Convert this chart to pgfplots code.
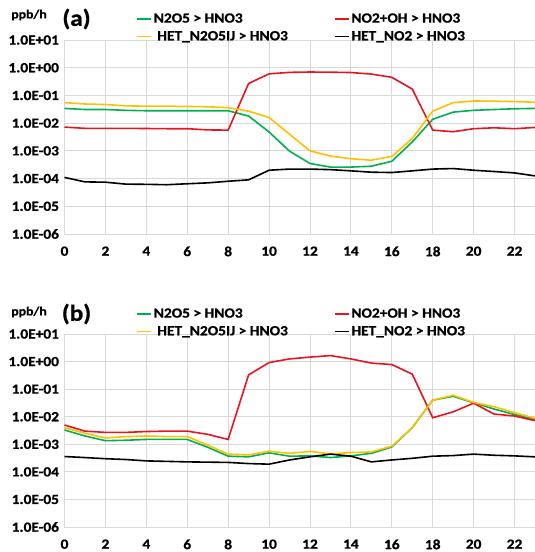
\documentclass[border=0pt]{standalone}
\usepackage{pgfplots}
\pgfplotsset{compat=1.18}
\usepackage{pgfplotstable}
\usepackage{fontspec}
\setmainfont{Carlito}[FakeStretch=1.1, BoldFeatures={FakeBold=0.8}]
\definecolor{cgreen}{RGB}{0,176,80}
\definecolor{cred}{RGB}{235,20,30}
\definecolor{cyellow}{RGB}{255,192,0}

\pgfplotstableread{
h g r y k
0 0.034 0.0072 0.055 1.1e-4
1 0.031 0.0065 0.049 7.6e-5
2 0.031 0.0065 0.047 7.4e-5
3 0.029 0.0065 0.042 6.3e-5
4 0.028 0.0064 0.041 6.2e-5
5 0.028 0.0063 0.041 6.0e-5
6 0.028 0.0063 0.040 6.5e-5
7 0.028 0.0057 0.039 7.0e-5
8 0.028 0.0056 0.036 8.0e-5
9 0.018 0.27 0.027 9.0e-5
10 0.0048 0.60 0.016 2.0e-4
11 0.00098 0.68 0.0040 2.2e-4
12 0.00035 0.70 0.0010 2.2e-4
13 0.00026 0.69 0.00065 2.1e-4
14 0.00026 0.67 0.00052 1.9e-4
15 0.00028 0.59 0.00046 1.7e-4
16 0.00042 0.45 0.00063 1.65e-4
17 0.0021 0.17 0.0028 1.9e-4
18 0.0138 0.0056 0.027 2.2e-4
19 0.025 0.0049 0.055 2.3e-4
20 0.029 0.0063 0.063 2.0e-4
21 0.031 0.0068 0.062 1.8e-4
22 0.033 0.0063 0.060 1.6e-4
23 0.034 0.0070 0.057 1.25e-4
}\dataA

\pgfplotstableread{
h g r y k
0 0.0033 0.0050 0.0040 3.6e-4
1 0.0020 0.0030 0.0025 3.3e-4
2 0.00135 0.0027 0.0017 3.0e-4
3 0.0014 0.0027 0.0019 2.8e-4
4 0.0015 0.0029 0.0020 2.5e-4
5 0.0015 0.0030 0.0019 2.4e-4
6 0.0015 0.0030 0.0019 2.3e-4
7 0.00078 0.0023 0.00093 2.25e-4
8 0.00037 0.0015 0.00044 2.2e-4
9 0.00035 0.33 0.00041 2.0e-4
10 0.00049 0.92 0.00056 1.9e-4
11 0.00037 1.25 0.00047 2.7e-4
12 0.00038 1.45 0.00055 3.5e-4
13 0.00033 1.65 0.00045 4.4e-4
14 0.00038 1.25 0.00050 3.7e-4
15 0.00047 0.88 0.00053 2.3e-4
16 0.00080 0.78 0.00085 2.7e-4
17 0.0040 0.35 0.0040 3.1e-4
18 0.040 0.0092 0.040 3.7e-4
19 0.055 0.015 0.060 3.9e-4
20 0.032 0.031 0.033 4.4e-4
21 0.019 0.0125 0.023 4.0e-4
22 0.012 0.0106 0.014 3.8e-4
23 0.0080 0.0072 0.0088 3.5e-4
}\dataB

\begin{document}
\begin{tikzpicture}
\useasboundingbox (0pt,0pt) rectangle (535pt,552pt);
\begin{axis}[height=194pt, at={(64.5pt,318pt)}, anchor=south west,
  width=470.5pt, scale only axis,
  ymode=log, ymin=1e-6, ymax=10, xmin=0, xmax=23,
  xtick={0,2,...,22},
  xticklabels={0,2,4,6,8,10,12,14,16,18,20,22},
  ytick={1e-6,1e-5,1e-4,1e-3,1e-2,1e-1,1,10},
  yticklabels={1.0E-06,1.0E-05,1.0E-04,1.0E-03,1.0E-02,1.0E-01,1.0E+00,1.0E+01},
  grid=major, major grid style={draw=black!15, line width=0.8pt},
  axis line style={draw=none},
  major tick length=0pt, minor tick length=0pt,
  tick label style={font=\bfseries\fontsize{14}{16}\selectfont},
  yticklabel style={xshift=-2pt},
  xticklabel style={yshift=-9pt},
  legend columns=2,
  legend cell align=left,
  legend style={draw=none, fill=none, inner sep=0pt, row sep=3pt,
    font=\bfseries\fontsize{14}{16}\selectfont,
    at={(axis description cs:0.152,1.0)}, anchor=south west, yshift=-4pt},
  legend image code/.code={\draw[#1] (0pt,0pt) -- (14pt,0pt);},
  every axis plot/.append style={line width=1.6pt, mark=none}]
\addplot[cgreen] table[x=h,y=g] {\dataA};
\addlegendentry{\makebox[178pt][l]{N2O5 > HNO3}}
\addplot[cred] table[x=h,y=r] {\dataA};
\addlegendentry{ NO2+OH > HNO3}
\addplot[cyellow] table[x=h,y=y] {\dataA};
\addlegendentry{\makebox[178pt][l]{ HET\_N2O5IJ > HNO3}}
\addplot[black] table[x=h,y=k] {\dataA};
\addlegendentry{HET\_NO2 > HNO3}
\end{axis}
\begin{axis}[height=193pt, at={(64.5pt,25pt)}, anchor=south west,
  width=470.5pt, scale only axis,
  ymode=log, ymin=1e-6, ymax=10, xmin=0, xmax=23,
  xtick={0,2,...,22},
  xticklabels={0,2,4,6,8,10,12,14,16,18,20,22},
  ytick={1e-6,1e-5,1e-4,1e-3,1e-2,1e-1,1,10},
  yticklabels={1.0E-06,1.0E-05,1.0E-04,1.0E-03,1.0E-02,1.0E-01,1.0E+00,1.0E+01},
  grid=major, major grid style={draw=black!15, line width=0.8pt},
  axis line style={draw=none},
  major tick length=0pt, minor tick length=0pt,
  tick label style={font=\bfseries\fontsize{14}{16}\selectfont},
  yticklabel style={xshift=-2pt},
  xticklabel style={yshift=-9pt},
  legend columns=2,
  legend cell align=left,
  legend style={draw=none, fill=none, inner sep=0pt, row sep=3pt,
    font=\bfseries\fontsize{14}{16}\selectfont,
    at={(axis description cs:0.152,1.0)}, anchor=south west, yshift=-5pt},
  legend image code/.code={\draw[#1] (0pt,0pt) -- (14pt,0pt);},
  every axis plot/.append style={line width=1.6pt, mark=none}]
\addplot[cgreen] table[x=h,y=g] {\dataB};
\addlegendentry{\makebox[178pt][l]{N2O5 > HNO3}}
\addplot[cred] table[x=h,y=r] {\dataB};
\addlegendentry{ NO2+OH > HNO3}
\addplot[cyellow] table[x=h,y=y] {\dataB};
\addlegendentry{\makebox[178pt][l]{ HET\_N2O5IJ > HNO3}}
\addplot[black] table[x=h,y=k] {\dataB};
\addlegendentry{HET\_NO2 > HNO3}
\end{axis}
\node[font=\bfseries\fontsize{12.5}{14}\selectfont] at (29pt,537pt) {ppb/h};
\node[font=\bfseries\fontsize{23}{26}\selectfont] at (76.5pt,533pt) {(a)};
\node[font=\bfseries\fontsize{12.5}{14}\selectfont] at (29pt,240pt) {ppb/h};
\node[font=\bfseries\fontsize{23}{26}\selectfont] at (76.5pt,238pt) {(b)};
\end{tikzpicture}
\end{document}
